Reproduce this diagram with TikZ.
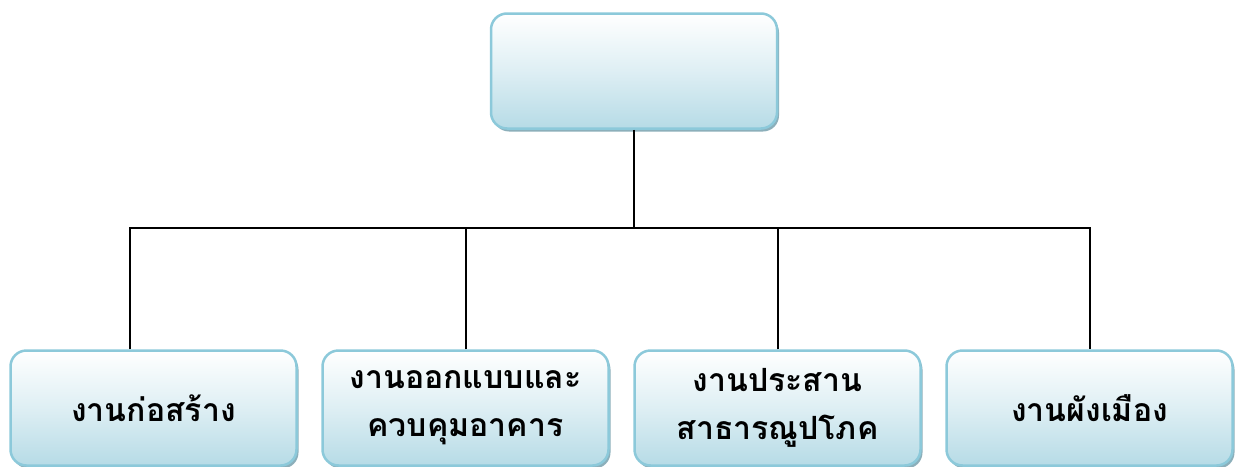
\documentclass[tikz,border=0pt]{standalone}
\usepackage{fontspec}
\newfontfamily\thaifont[Script=Thai]{Loma}
\usetikzlibrary{positioning,shadows}

\definecolor{unitline}{HTML}{8CC9DA}
\definecolor{unitfill}{HTML}{B6DBE6}
\definecolor{unitshade}{HTML}{7FA6B3}

\tikzset{
  unit/.style={draw=unitline, line width=2.5pt, rounded corners=16pt,
    top color=white, bottom color=unitfill, middle color=unitfill!45,
    minimum width=286pt, minimum height=115pt, align=center,
    font=\thaifont\bfseries\fontsize{32}{48}\selectfont,
    drop shadow={shadow xshift=2pt, shadow yshift=-3pt, fill=unitshade, opacity=0.9}},
  link/.style={line width=2pt}
}

\begin{document}
\begin{tikzpicture}[x=1pt,y=-1pt]
  \useasboundingbox (0,0) rectangle (1237,466);

  \node[unit] (head) at (634,71) {};

  \node[unit] (build) at (153.5,408) {งานก่อสร้าง};
  \node[unit] (design) [right = 23.5pt of build] {งานออกแบบและ\\ควบคุมอาคาร};
  \node[unit] (utility) [right = 23.5pt of design] {งานประสาน\\สาธารณูปโภค};
  \node[unit] (plan) [right = 23.5pt of utility] {งานผังเมือง};

  \coordinate (bus) at (634,228);

  \draw[link] (head.south) -- (bus);
  \draw[link] ([xshift=121pt]build.north west) |- (bus -| plan.north) -- (plan.north);
  \draw[link] (design.north) -- (design.north |- bus);
  \draw[link] (utility.north) -- (utility.north |- bus);

\end{tikzpicture}
\end{document}
